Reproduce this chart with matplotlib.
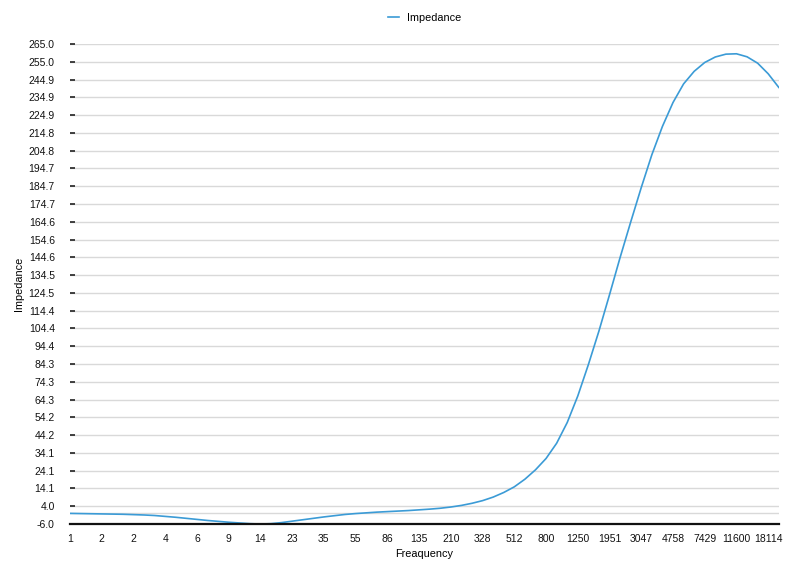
import matplotlib.pyplot as plt
import numpy as np

plt.rcParams['font.family'] = ['Liberation Sans', 'DejaVu Sans']

# frequency sweep (Hz), log spaced, every third point is labelled
freq = [1.00, 1.16, 1.35, 1.56, 1.81, 2.10, 2.44, 2.83, 3.28, 3.81,
        4.42, 5.13, 5.95, 6.90, 8.00, 9.28, 10.77, 12.50, 14.50, 16.82,
        19.51, 22.64, 26.27, 30.47, 35.35, 41.01, 47.58, 55.20, 64.04, 74.30,
        86.20, 100.0, 116.0, 134.6, 156.2, 181.2, 210.2, 243.9, 282.9, 328.2,
        380.8, 441.8, 512.5, 594.6, 689.8, 800.3, 928.5, 1077, 1250, 1450,
        1682, 1951, 2264, 2627, 3047, 3535, 4101, 4758, 5520, 6404,
        7429, 8619, 10000, 11600, 13458, 15614, 18114, 21015]

impedance = [0.0, -0.1, -0.2, -0.3, -0.4, -0.5, -0.7, -0.9, -1.2, -1.7,
             -2.2, -2.8, -3.4, -4.0, -4.5, -5.0, -5.4, -5.8, -6.0, -5.8,
             -5.2, -4.4, -3.6, -2.8, -2.0, -1.3, -0.6, -0.1, 0.3, 0.7,
             1.0, 1.3, 1.6, 2.0, 2.4, 2.9, 3.6, 4.5, 5.7, 7.2,
             9.2, 11.8, 15.0, 19.3, 24.6, 31.0, 39.6, 51.3, 66.3, 84.0,
             103.0, 123.5, 144.5, 164.5, 184.0, 202.5, 218.5, 232.0, 242.5, 249.6,
             254.6, 257.7, 259.3, 259.5, 257.8, 254.2, 248.2, 240.5]

tick_labels = ['1', '2', '2', '4', '6', '9', '14', '23', '35', '55', '86', '135',
               '210', '328', '512', '800', '1250', '1951', '3047', '4758',
               '7429', '11600', '18114']

y_min, y_max = -6.0, 265.0

x = np.arange(len(freq))

fig = plt.figure(figsize=(8, 5.64), dpi=100)
ax = fig.add_axes([0.0875, 0.0709, 0.886, 0.851])

ax.plot(x, impedance, color='#3b9bd6', lw=1.2, label='Impedance', zorder=3,
        solid_joinstyle='round')

ax.set_xlim(0, len(freq) - 1)
ax.set_ylim(y_min, y_max)

yt = np.linspace(y_min, y_max, 28)
ax.set_yticks(yt)
ax.set_yticklabels(['%.1f' % v for v in yt])
ax.set_xticks(x[::3])
ax.set_xticklabels(tick_labels)

ax.grid(axis='y', color='#d9d9d9', lw=1.0, zorder=0)
ax.axhline(0, color='#d9d9d9', lw=1.0, zorder=1)

for s in ['top', 'right', 'left']:
    ax.spines[s].set_visible(False)
ax.spines['bottom'].set_color('#111111')
ax.spines['bottom'].set_linewidth(1.6)
ax.spines['bottom'].set_zorder(4)

ax.tick_params(axis='y', direction='in', length=3.5, width=1.2, color='#222222',
               pad=11, labelsize=7.5, labelcolor='#111111')
ax.tick_params(axis='x', length=0, pad=7, labelsize=7.5, labelcolor='#111111')

ax.set_xlabel('Freaquency', fontsize=7.8, labelpad=4)
ax.set_ylabel('Impedance', fontsize=7.8, labelpad=3)

fig.legend(loc='upper center', bbox_to_anchor=(0.531, 0.995), frameon=False,
           fontsize=7.8, handlelength=1.0, handletextpad=0.8)

fig.savefig('out.png', dpi=100)
